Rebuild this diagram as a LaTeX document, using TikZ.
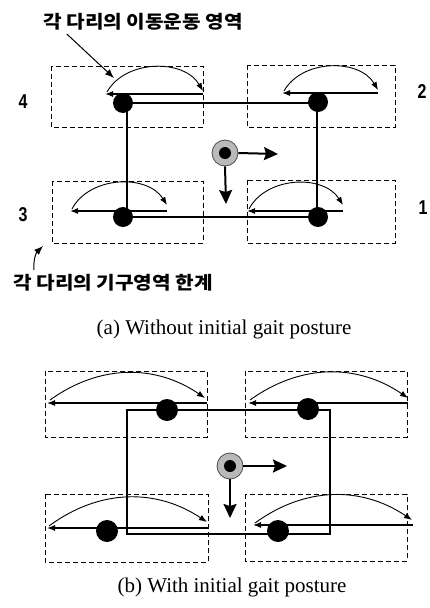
\documentclass[tikz,border=0pt]{standalone}
\usepackage{fontspec}
\setmainfont{Liberation Serif}
\newfontfamily\kofont{Noto Sans CJK KR}[FakeStretch=1.12]
\newfontfamily\numfont{Liberation Sans}[FakeStretch=0.8]
\usetikzlibrary{arrows.meta,positioning}
\begin{document}
\begin{tikzpicture}[x=1pt,y=-1pt,
  legbox/.style={draw,dash pattern=on 5pt off 3pt,line width=0.9pt},
  body/.style={line width=2.6pt},
  foot/.style={circle,fill=black,inner sep=0pt,minimum size=20pt},
  cog/.style={circle,fill=gray!55,draw=gray!60!black,line width=0.8pt,inner sep=0pt,minimum size=26pt,
    path picture={\fill[black] (path picture bounding box.center) circle (6pt);}},
  move/.style={line width=1.1pt,-{Latex[length=8pt,width=6pt]}},
  swing/.style={line width=0.9pt,-{Latex[length=8pt,width=6pt]}},
  cogarrow/.style={line width=2pt,-{Stealth[length=14pt,width=13pt,inset=2pt]}},
  note/.style={line width=1pt,-{Latex[length=9pt,width=7pt]}},
  legno/.style={font=\numfont\bfseries\fontsize{20}{20}\selectfont},
  kolabel/.style={font=\kofont\bfseries\fontsize{18}{18}\selectfont},
  captext/.style={font=\fontsize{21}{21}\selectfont}]
\useasboundingbox (0,0) rectangle (430,608);
% (a) without initial gait posture
\node[kolabel] (topnote) at (143,22) {각 다리의 이동운동 영역};
\coordinate (topnoteend) at (114,78);
\draw[note] ([xshift=27pt]topnote.south west) -- (topnoteend);
\draw[legbox] (51,66) rectangle (203,127);
\draw[legbox] (247,65) rectangle (395,127);
\draw[legbox] (52,181) rectangle (203,243);
\draw[legbox] (247,180) rectangle (395,243);
\node[legno] (na4) at (23,102) {4};
\node[legno] (na2) at (422,92) {2};
\node[legno] (na3) at (23,215) {3};
\node[legno] (na1) at (423,208) {1};
\draw[body] (127,103) rectangle (317,217);
% leg swing paths
\coordinate (ma4r) at (203,94); \coordinate (ma4l) at (105,94);
\coordinate (ma2r) at (378,93); \coordinate (ma2l) at (282,93);
\coordinate (ma3r) at (167,211); \coordinate (ma3l) at (70,211);
\coordinate (ma1r) at (343,211); \coordinate (ma1l) at (247,211);
\draw[move] (ma4r) -- (ma4l);
\draw[swing] ([shift={(2,-2)}]ma4l) to[bend left=60] ([shift={(0,-3)}]ma4r);
\draw[move] (ma2r) -- (ma2l);
\draw[swing] ([shift={(2,-2)}]ma2l) to[bend left=60] ([shift={(0,-3)}]ma2r);
\draw[move] (ma3r) -- (ma3l);
\draw[swing] ([shift={(2,-2)}]ma3l) to[bend left=60] ([shift={(0,-6)}]ma3r);
\draw[move] (ma1r) -- (ma1l);
\draw[swing] ([shift={(2,-2)}]ma1l) to[bend left=60] ([shift={(0,-6)}]ma1r);
\node[foot] (fa4) at (123,103) {};
\node[foot] (fa2) at (318,102) {};
\node[foot] (fa3) at (123,217) {};
\node[foot] (fa1) at (318,217) {};
\node[cog] (cga) at (225,153) {};
\coordinate (cgax) at (278,154); \coordinate (cgay) at (226,204);
\draw[cogarrow] (cga.east) -- (cgax);
\draw[cogarrow] (cga.south) -- (cgay);
\node[kolabel] (botnote) at (113,283) {각 다리의 기구영역 한계};
\coordinate (botnotetail) at (34,270); \coordinate (botnoteend) at (43,246);
\draw[note] (botnotetail) to[bend left=25] (botnoteend);
\node[captext] (capa) at (224,329) {(a) Without initial gait posture};
% (b) with initial gait posture
\draw[legbox] (45,371) rectangle (207,437);
\draw[legbox] (245,371) rectangle (407,437);
\draw[legbox] (45,494) rectangle (208,562);
\draw[legbox] (245,494) rectangle (407,561);
\draw[body] (127,410) rectangle (330,534);
\coordinate (mb4r) at (207,403); \coordinate (mb4l) at (47,403);
\coordinate (mb2r) at (408,403); \coordinate (mb2l) at (248,403);
\coordinate (mb3r) at (208,528); \coordinate (mb3l) at (47,528);
\coordinate (mb1r) at (413,525); \coordinate (mb1l) at (253,525);
\draw[move] (mb4r) -- (mb4l);
\draw[swing] ([shift={(3,-3)}]mb4l) to[bend left=35] ([shift={(-2,-5)}]mb4r);
\draw[move] (mb2r) -- (mb2l);
\draw[swing] ([shift={(2,-3)}]mb2l) to[bend left=35] ([shift={(0,-5)}]mb2r);
\draw[move] (mb3r) -- (mb3l);
\draw[swing] ([shift={(2,-2)}]mb3l) to[bend left=35] ([shift={(-1,-6)}]mb3r);
\draw[move] (mb1r) -- (mb1l);
\draw[swing] ([shift={(2,-2)}]mb1l) to[bend left=35] ([shift={(-1,-5)}]mb1r);
\node[foot,minimum size=22pt] (fb4) at (167,410) {};
\node[foot,minimum size=22pt] (fb2) at (308,409) {};
\node[foot,minimum size=22pt] (fb3) at (107,531) {};
\node[foot,minimum size=22pt] (fb1) at (278,531) {};
\node[cog] (cgb) at (230,466) {};
\coordinate (cgbx) at (287,466); \coordinate (cgby) at (230,518);
\draw[cogarrow] (cgb.east) -- (cgbx);
\draw[cogarrow] (cgb.south) -- (cgby);
\node[captext] (capb) at (232,587) {(b) With initial gait posture};
\end{tikzpicture}
\end{document}
